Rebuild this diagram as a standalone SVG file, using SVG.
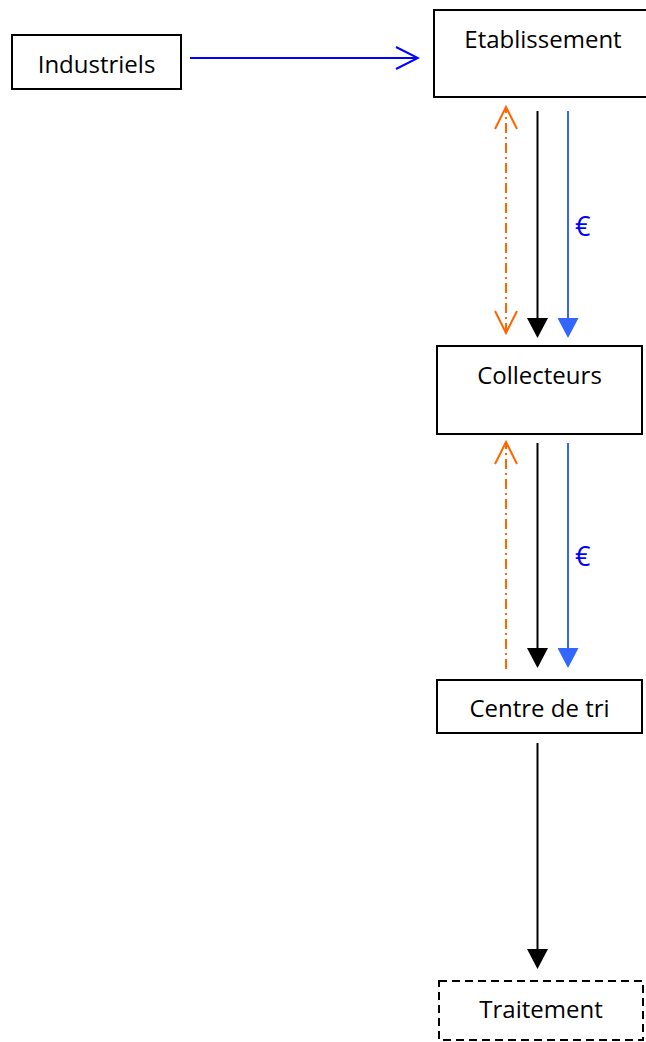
<svg xmlns="http://www.w3.org/2000/svg" width="646" height="1042" viewBox="0 0 646 1042">
<style>
.box{fill:#fff;stroke:#000;stroke-width:2}
.dash{stroke-dasharray:8,5}
.lbl{font-family:"Open Sans","Noto Sans",sans-serif;font-size:24px;fill:#000;text-anchor:middle}
.euro{font-family:"Open Sans","Noto Sans",sans-serif;font-size:27px;fill:#0000ff}
.blk{stroke:#000;stroke-width:2;fill:none}
.blu{stroke:#3366ff;stroke-width:2;fill:none}
.org{stroke:#ff6600;stroke-width:2;fill:none;stroke-dasharray:10,4,2,4}
.ind{stroke:#0000ff;stroke-width:2;fill:none}
</style>
<defs>
<marker id="hBlack" markerUnits="userSpaceOnUse" markerWidth="21" markerHeight="21" viewBox="0 0 20 21" refX="0" refY="10.5" orient="auto">
<path d="M0,0 L20,10.5 L0,21 z" fill="#000"/>
</marker>
<marker id="hBlue" markerUnits="userSpaceOnUse" markerWidth="21" markerHeight="21" viewBox="0 0 20 21" refX="0" refY="10.5" orient="auto">
<path d="M0,0 L20,10.5 L0,21 z" fill="#3366ff"/>
</marker>
<marker id="oOrange" markerUnits="userSpaceOnUse" markerWidth="26" markerHeight="26" viewBox="-2 -2 26 26" refX="22" refY="11" orient="auto-start-reverse">
<path d="M0,0 L22,11 L0,22" fill="none" stroke="#ff6600" stroke-width="2"/>
</marker>
<marker id="oBlue" markerUnits="userSpaceOnUse" markerWidth="26" markerHeight="26" viewBox="-2 -2 26 26" refX="22" refY="11" orient="auto">
<path d="M0,0 L22,11 L0,22" fill="none" stroke="#0000ff" stroke-width="2"/>
</marker>
</defs>

<g id="connectors">
<line class="ind" x1="190" y1="58" x2="418" y2="58" marker-end="url(#oBlue)"/>
<line class="org" x1="506" y1="333" x2="506" y2="107" marker-start="url(#oOrange)" marker-end="url(#oOrange)"/>
<line class="blk" x1="537.5" y1="111" x2="537.5" y2="318" marker-end="url(#hBlack)"/>
<line class="blu" x1="568" y1="111" x2="568" y2="318" marker-end="url(#hBlue)"/>
<text class="euro" x="575" y="236">€</text>
<line class="org" x1="506" y1="669" x2="506" y2="442" marker-end="url(#oOrange)"/>
<line class="blk" x1="537.5" y1="443" x2="537.5" y2="648" marker-end="url(#hBlack)"/>
<line class="blu" x1="568" y1="443" x2="568" y2="648" marker-end="url(#hBlue)"/>
<text class="euro" x="575" y="566">€</text>
<line class="blk" x1="537.5" y1="743" x2="537.5" y2="949" marker-end="url(#hBlack)"/>
</g>

<g id="industriels">
<rect class="box" x="12" y="35" width="169" height="54"/>
<text class="lbl" x="96.5" y="73">Industriels</text>
</g>
<g id="etablissement">
<rect class="box" x="434" y="10" width="218" height="87"/>
<text class="lbl" x="543" y="48">Etablissement</text>
</g>
<g id="collecteurs">
<rect class="box" x="437" y="346" width="205" height="88"/>
<text class="lbl" x="539.5" y="384">Collecteurs</text>
</g>
<g id="centre-de-tri">
<rect class="box" x="437" y="680" width="205" height="53"/>
<text class="lbl" x="539.5" y="717">Centre de tri</text>
</g>
<g id="traitement">
<rect class="box dash" x="439" y="981" width="204" height="59"/>
<text class="lbl" x="541" y="1018">Traitement</text>
</g>
</svg>
